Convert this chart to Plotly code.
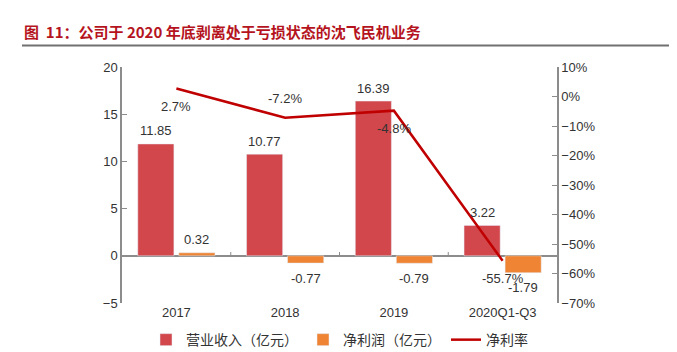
import plotly.graph_objects as go

categories = ["2017", "2018", "2019", "2020Q1-Q3"]
revenue = [11.85, 10.77, 16.39, 3.22]
net_profit = [0.32, -0.77, -0.79, -1.79]
net_margin = [2.7, -7.2, -4.8, -55.7]
margin_label_below = [True, False, True, True]

title = "图  11：公司于 2020 年底剥离处于亏损状态的沈飞民机业务"
font_family = "Liberation Sans, Noto Sans CJK SC, sans-serif"
txt = "#333333"
axis_col = "#8C8C8C"

BARGAP = 0.245
CAT_PX = 435 / len(categories)          # pixel width of one category
BAR_SHIFT = CAT_PX * (1 - BARGAP) / 4   # centre offset of each bar in a group

fig = go.Figure()
fig.add_trace(go.Bar(
    x=categories, y=revenue, name="营业收入（亿元）",
    marker=dict(color="#D2474C"),
))
fig.add_trace(go.Bar(
    x=categories, y=net_profit, name="净利润（亿元）",
    marker=dict(color="#EE8434"),
))
fig.add_trace(go.Scatter(
    x=categories, y=net_margin, name="净利率", yaxis="y2",
    mode="lines", line=dict(color="#C00000", width=2.5), cliponaxis=False,
))

# bar data labels
for series, xs in ((revenue, -BAR_SHIFT), (net_profit, BAR_SHIFT)):
    for i, v in enumerate(series):
        fig.add_annotation(x=i, y=v, xref="x", yref="y", text=f"{v:.2f}",
                           showarrow=False, xshift=xs, yshift=13 if v >= 0 else -15,
                           font=dict(size=13, color=txt))

# data labels of the margin line (category index positions)
for i, (v, below) in enumerate(zip(net_margin, margin_label_below)):
    fig.add_annotation(x=i, y=v, xref="x", yref="y2", text=f"{v:.1f}%",
                       showarrow=False, yshift=-18 if below else 19,
                       font=dict(size=13, color=txt))

# tick marks between categories on the zero line
for b in [0.5, 1.5, 2.5]:
    fig.add_shape(type="line", xref="x", yref="y", x0=b, x1=b, y0=0, y1=0.4,
                  line=dict(color=axis_col, width=1))

# title and its underline
fig.add_annotation(text="<b>" + title + "</b>", xref="paper", yref="paper",
                   x=(22-122)/435, y=1 + (67-32)/236, xanchor="left", yanchor="middle",
                   showarrow=False,
                   font=dict(size=15, color="#B5141E", family="Noto Sans CJK SC, sans-serif"))
fig.add_shape(type="line", xref="paper", yref="paper",
              x0=(22-122)/435, x1=(669-122)/435, y0=1 + (67-45.5)/236, y1=1 + (67-45.5)/236,
              line=dict(color="#707070", width=2))

fig.update_layout(
    width=677, height=352,
    margin=dict(l=122, r=120, t=67, b=49, autoexpand=False),
    paper_bgcolor="white", plot_bgcolor="white",
    font=dict(family=font_family, size=13, color=txt),
    barmode="group", bargap=BARGAP, bargroupgap=0.12,
    showlegend=True,
    legend=dict(orientation="h", x=0.5, xanchor="center", y=-0.157, yanchor="middle",
                font=dict(size=14, color=txt), itemwidth=30, traceorder="normal"),
    xaxis=dict(type="category", range=[-0.5, 3.5], showline=False, ticks="", showgrid=False,
               tickfont=dict(size=13, color=txt)),
    yaxis=dict(range=[-5, 20], dtick=5, showgrid=False, showline=True,
               linecolor=axis_col, linewidth=1.5, ticks="inside", ticklen=5,
               tickcolor=axis_col, zeroline=True, zerolinecolor=axis_col,
               zerolinewidth=1.5, tickfont=dict(size=13, color=txt)),
    yaxis2=dict(range=[-70, 10], dtick=10, ticksuffix="%", overlaying="y",
                side="right", showgrid=False, showline=True, linecolor=axis_col,
                linewidth=1.5, ticks="inside", ticklen=5, tickcolor=axis_col,
                zeroline=False, tickfont=dict(size=13, color=txt)),
)

fig.write_html("out.html")
